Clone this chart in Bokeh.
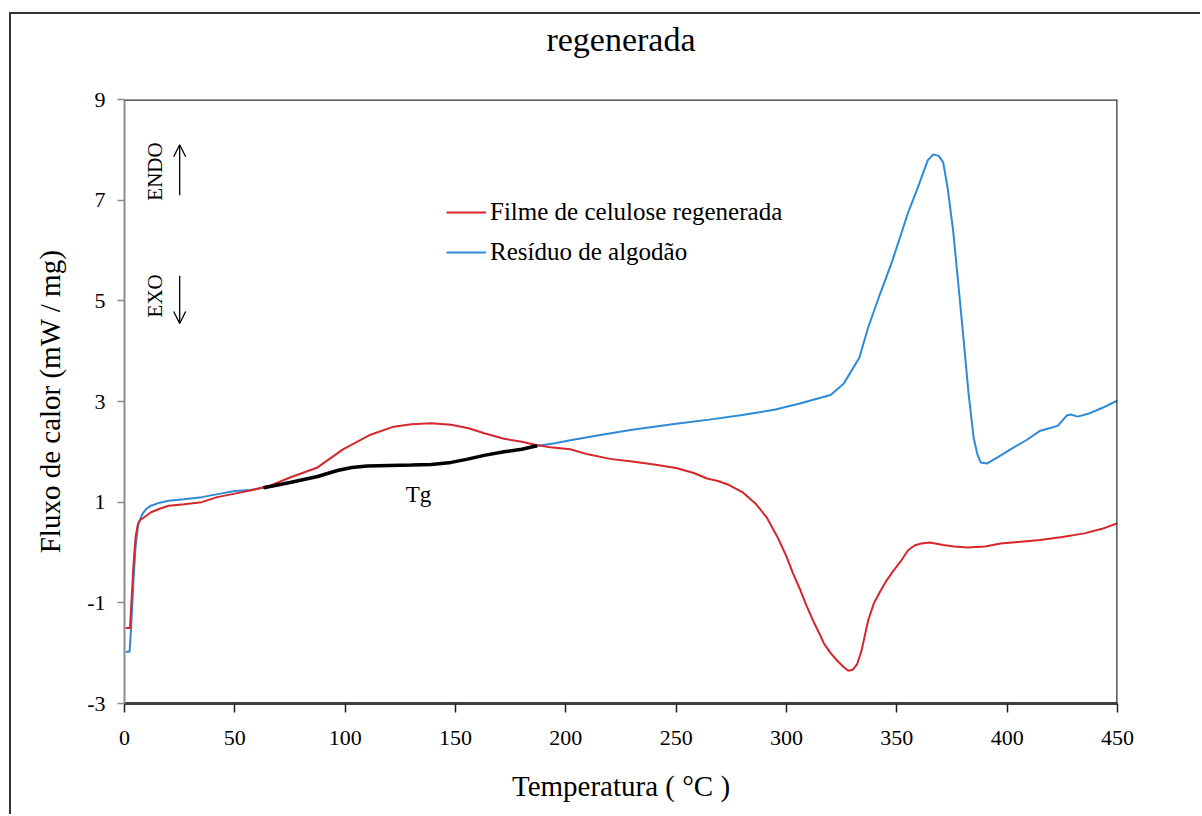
import math
import numpy as np
from bokeh.plotting import figure
from bokeh.models import (Range1d, FixedTicker, Legend, LegendItem, Label, Arrow,
                          OpenHead, Span)
from bokeh.embed import file_html
from bokeh.resources import INLINE

SERIF = "Liberation Serif"

# ---------------- data ----------------
x_ticks = [0, 50, 100, 150, 200, 250, 300, 350, 400, 450]
y_ticks = [-3, -1, 1, 3, 5, 7, 9]

filme_T = [0.5, 2.5, 3.0, 4.0, 5.0, 6.0, 7.0, 9, 12, 16, 20, 27, 35, 42, 50, 57, 66, 75,
           87.5, 99, 111.5, 122, 130, 139, 148, 156, 163, 172, 180, 186, 193, 202, 210,
           220, 230, 240, 250, 258, 264, 269, 274, 280, 286, 291, 296, 300, 303, 306, 309,
           312, 315, 317, 320, 323, 326, 328, 330, 332, 334, 335.5, 337, 339.5, 342.5,
           345, 348.5, 352, 355, 358, 361, 365, 371, 376, 382, 390, 397, 405, 415, 425,
           435, 443, 450]
filme_Q = [-1.5, -1.5, -1.1, -0.3, 0.3, 0.55, 0.64, 0.70, 0.80, 0.87, 0.93, 0.96, 1.0,
           1.1, 1.17, 1.23, 1.33, 1.49, 1.69, 2.05, 2.34, 2.50, 2.55, 2.57, 2.54, 2.47,
           2.37, 2.26, 2.2, 2.14, 2.09, 2.05, 1.95, 1.86, 1.81, 1.75, 1.68, 1.58, 1.47,
           1.42, 1.34, 1.2, 0.97, 0.70, 0.3, -0.08, -0.42, -0.72, -1.05, -1.35, -1.62,
           -1.81, -2.0, -2.15, -2.28, -2.35, -2.33, -2.22, -1.95, -1.65, -1.35, -1.02,
           -0.77, -0.58, -0.36, -0.16, 0.04, 0.14, 0.18, 0.2, 0.15, 0.12, 0.10, 0.12,
           0.18, 0.21, 0.25, 0.31, 0.38, 0.47, 0.58]

residuo_T = [0.5, 2.3, 3.0, 4.0, 5.0, 5.5, 6.3, 8.2, 10, 12, 16, 20, 27, 35, 43.5, 50, 57,
             66, 75, 87.5, 96.5, 103, 110, 120, 130, 139, 148, 155, 163, 172, 180, 186,
             195, 202, 215, 230, 250, 265, 280, 295, 306, 315, 320, 326, 333, 337, 342.5,
             348, 355, 359.5, 364, 366.5, 369, 371, 373, 375.5, 378, 380.3, 382.5, 384.8,
             386.5, 388, 391, 396, 403, 409, 415, 420, 423, 427, 429, 432, 437, 443, 450]
residuo_Q = [-1.97, -1.97, -1.5, -0.6, 0.1, 0.3, 0.58, 0.77, 0.87, 0.93, 0.99, 1.03, 1.06,
             1.1, 1.17, 1.22, 1.24, 1.31, 1.39, 1.51, 1.63, 1.69, 1.72, 1.73, 1.74, 1.75,
             1.79, 1.85, 1.93, 2.0, 2.05, 2.11, 2.17, 2.23, 2.33, 2.44, 2.56, 2.64, 2.73,
             2.84, 2.96, 3.07, 3.13, 3.36, 3.87, 4.47, 5.15, 5.8, 6.74, 7.25, 7.79, 7.91,
             7.88, 7.75, 7.25, 6.4, 5.27, 4.21, 3.16, 2.28, 1.95, 1.79, 1.77, 1.9, 2.09,
             2.24, 2.42, 2.48, 2.52, 2.72, 2.74, 2.70, 2.76, 2.87, 3.02]

tg_range = [63, 187]

# Tg segment taken from the cotton-residue curve
rT = np.array(residuo_T)
rQ = np.array(residuo_Q)
mask = (rT > tg_range[0]) & (rT < tg_range[1])
tg_T = [tg_range[0]] + list(rT[mask]) + [tg_range[1]]
tg_Q = ([float(np.interp(tg_range[0], rT, rQ))] + list(rQ[mask])
        + [float(np.interp(tg_range[1], rT, rQ))])

# ---------------- figure ----------------
# the canvas starts above the window so that the caption line is cut at the top,
# as in the source image
SHIFT = 24
p = figure(width=1200, height=814 + SHIFT, x_range=Range1d(0, 450), y_range=Range1d(-3, 9),
           output_backend="svg", toolbar_location=None,
           min_border_left=124, min_border_right=83, min_border_top=99 + SHIFT,
           min_border_bottom=111)
p.outline_line_color = None
p.xgrid.grid_line_color = None
p.ygrid.grid_line_color = None
p.background_fill_color = "white"
p.border_fill_color = None
# outer document frame (left and top edges) painted behind the transparent canvas border
p.styles = {
    "margin-top": f"-{SHIFT}px",
    "background": (f"linear-gradient(#333333, #333333) 9px {12 + SHIFT}px / 2px 100% no-repeat, "
                   f"linear-gradient(#333333, #333333) 9px {12 + SHIFT}px / 100% 2px no-repeat, "
                   "#ffffff"),
}

# caption fragment above the chart box
p.title.text = "regenerada"
p.title.align = "center"
p.title.vertical_align = "top"
p.title.offset = -8
p.title.text_font = SERIF
p.title.text_font_style = "normal"
p.title.text_font_size = "34px"
p.title.text_color = "black"
p.title.standoff = 80

p.xaxis.ticker = FixedTicker(ticks=x_ticks)
p.yaxis.ticker = FixedTicker(ticks=y_ticks)
p.yaxis.major_label_overrides = {t: str(t) for t in y_ticks}
p.xaxis.axis_label = "Temperatura ( °C )"
p.yaxis.axis_label = "Fluxo de calor (mW / mg)"

for ax in (p.xaxis[0], p.yaxis[0]):
    ax.axis_label_text_font = SERIF
    ax.axis_label_text_font_style = "normal"
    ax.axis_label_text_font_size = "29px"
    ax.axis_label_text_color = "black"
    ax.major_label_text_font = SERIF
    ax.major_label_text_font_size = "22px"
    ax.major_label_text_color = "black"
    ax.minor_tick_line_color = None
    ax.major_tick_in = 0

p.xaxis.axis_line_color = "#404040"
p.xaxis.axis_line_width = 3
p.xaxis.major_tick_line_color = "#202020"
p.xaxis.major_tick_line_width = 1.5
p.xaxis.major_tick_out = 9
p.xaxis.major_label_standoff = 18
p.xaxis.axis_label_standoff = 22

p.yaxis.axis_line_color = "#8c8c8c"
p.yaxis.axis_line_width = 2
p.yaxis.major_tick_line_color = "#8c8c8c"
p.yaxis.major_tick_line_width = 1.5
p.yaxis.major_tick_out = 7
p.yaxis.major_label_standoff = 12
p.yaxis.axis_label_standoff = 18

# plot box: top and right edges
p.add_layout(Span(location=9, dimension="width", line_color="#333333", line_width=2.5))
p.add_layout(Span(location=450, dimension="height", line_color="#333333", line_width=2.5))

# ---------------- curves ----------------
blue = p.line(residuo_T, residuo_Q, line_color="#2d8ad6", line_width=2)
red = p.line(filme_T, filme_Q, line_color="#d7262b", line_width=2)
p.line(tg_T, tg_Q, line_color="black", line_width=3.5)

legend = Legend(items=[LegendItem(label="Filme de celulose regenerada", renderers=[red]),
                       LegendItem(label="Resíduo de algodão", renderers=[blue])],
                location=(322, 436), orientation="vertical", border_line_color=None,
                background_fill_alpha=0, padding=0, margin=0, spacing=10,
                glyph_height=30, glyph_width=40, label_height=30, label_standoff=4,
                label_text_font=SERIF, label_text_font_size="25px",
                label_text_color="black")
p.add_layout(legend)

# ---------------- annotations ----------------
p.add_layout(Label(x=133.2, y=1.15, text="Tg", text_align="center", text_baseline="middle",
                   text_font=SERIF, text_font_size="23px", text_color="black"))
p.add_layout(Label(x=14, y=7.57, text="ENDO", angle=math.pi / 2, text_align="center",
                   text_baseline="middle", text_font=SERIF, text_font_size="21px",
                   text_color="black"))
p.add_layout(Label(x=14, y=5.10, text="EXO", angle=math.pi / 2, text_align="center",
                   text_baseline="middle", text_font=SERIF, text_font_size="21px",
                   text_color="black"))
p.add_layout(Arrow(end=OpenHead(size=12, line_width=1.3), x_start=25, y_start=7.1,
                   x_end=25, y_end=8.1, line_width=1.3))
p.add_layout(Arrow(end=OpenHead(size=12, line_width=1.3), x_start=25, y_start=5.5,
                   x_end=25, y_end=4.55, line_width=1.3))

open("out.html", "w").write(file_html(p, INLINE))
